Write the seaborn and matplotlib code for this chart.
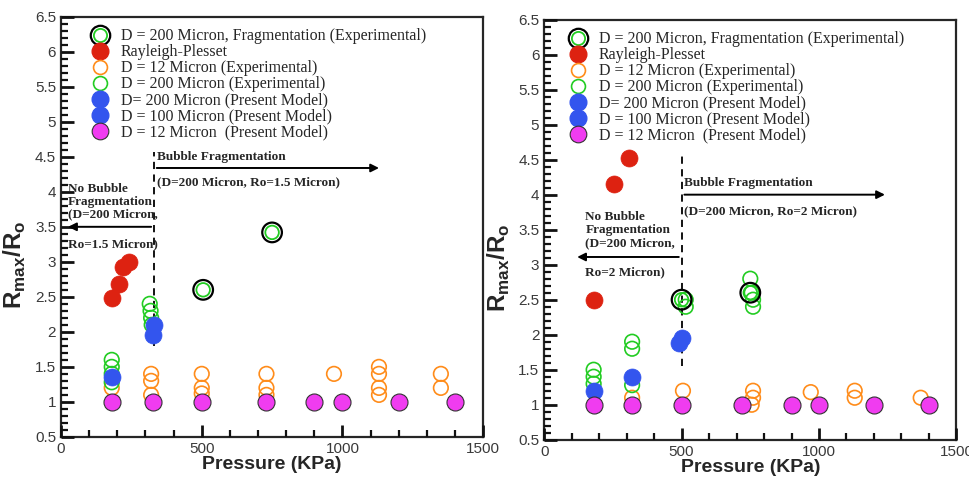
import pandas as pd
import matplotlib.pyplot as plt
import seaborn as sns
from matplotlib.lines import Line2D
from matplotlib.legend_handler import HandlerTuple
from matplotlib.ticker import MultipleLocator

# ---- data (pressure in KPa, Rmax/Ro) ----
# left panel, Ro = 1.5 micron
frag_p_a = [505, 750]
frag_r_a = [2.6, 3.42]
rp_p_a = [180, 205, 220, 240]
rp_r_a = [2.48, 2.68, 2.93, 3.0]
d12exp_p_a = [180, 320, 320, 320, 500, 500, 500, 730, 730, 730, 970, 1130, 1130, 1130, 1130, 1350, 1350]
d12exp_r_a = [1.2, 1.4, 1.3, 1.1, 1.4, 1.2, 1.12, 1.4, 1.2, 1.1, 1.4, 1.5, 1.4, 1.2, 1.1, 1.4, 1.2]
d200exp_p_a = [180, 180, 180, 180, 315, 318, 320, 322]
d200exp_r_a = [1.6, 1.5, 1.4, 1.28, 2.4, 2.3, 2.2, 2.1]
d100mod_p_a = [180, 330, 325]
d100mod_r_a = [1.35, 2.1, 1.95]
d12mod_p_a = [180, 325, 500, 730, 900, 1000, 1200, 1400]
d12mod_r_a = [1.0, 1.0, 1.0, 1.0, 1.0, 1.0, 1.0, 1.0]

# right panel, Ro = 2 micron
frag_p_b = [500, 750]
frag_r_b = [2.5, 2.6]
rp_p_b = [180, 255, 310]
rp_r_b = [2.5, 4.15, 4.52]
d12exp_p_b = [320, 505, 760, 760, 755, 970, 1130, 1130, 1370]
d12exp_r_b = [1.1, 1.2, 1.2, 1.1, 1.0, 1.18, 1.2, 1.1, 1.1]
d200exp_p_b = [180, 180, 180, 320, 320, 320, 515, 515, 750, 755, 760, 760]
d200exp_r_b = [1.5, 1.4, 1.3, 1.9, 1.8, 1.28, 2.5, 2.4, 2.8, 2.6, 2.5, 2.4]
d100mod_p_b = [180, 320, 490, 500]
d100mod_r_b = [1.2, 1.4, 1.88, 1.95]
d12mod_p_b = [180, 320, 500, 720, 900, 1000, 1200, 1400]
d12mod_r_b = [1.0, 1.0, 1.0, 1.0, 1.0, 1.0, 1.0, 1.0]

y_ticks = [0.5, 1, 1.5, 2, 2.5, 3, 3.5, 4, 4.5, 5, 5.5, 6, 6.5]
y_ticklabels = ['0.5', '1', '1.5', '2', '2.5', '3', '3.5', '4', '4.5', '5', '5.5', '6', '6.5']

labels = ['D = 200 Micron, Fragmentation (Experimental)',
          'Rayleigh-Plesset',
          'D = 12 Micron (Experimental)',
          'D = 200 Micron (Experimental)',
          'D= 200 Micron (Present Model)',
          'D = 100 Micron (Present Model)',
          'D = 12 Micron  (Present Model)']

RED = '#dd2211'
ORANGE = '#ff8c1a'
GREEN = '#22cc22'
BLUE = '#3355ee'
MAGENTA = '#f03cf0'


def make_df(frag, rp, d12exp, d200exp, d100mod, d12mod):
    rows = []
    for name, (p, r) in [('frag', frag), ('rp', rp), ('d12exp', d12exp),
                         ('d200exp', d200exp), ('d100mod', d100mod), ('d12mod', d12mod)]:
        rows += [{'series': name, 'P': pi, 'R': ri} for pi, ri in zip(p, r)]
    return pd.DataFrame(rows)


df_a = make_df((frag_p_a, frag_r_a), (rp_p_a, rp_r_a), (d12exp_p_a, d12exp_r_a),
               (d200exp_p_a, d200exp_r_a), (d100mod_p_a, d100mod_r_a), (d12mod_p_a, d12mod_r_a))
df_b = make_df((frag_p_b, frag_r_b), (rp_p_b, rp_r_b), (d12exp_p_b, d12exp_r_b),
               (d200exp_p_b, d200exp_r_b), (d100mod_p_b, d100mod_r_b), (d12mod_p_b, d12mod_r_b))

sns.set_style('ticks', {'xtick.direction': 'in', 'ytick.direction': 'in'})
plt.rcParams.update({
    'font.family': ['Liberation Sans', 'DejaVu Sans'],
    'mathtext.fontset': 'custom',
    'mathtext.bf': 'Liberation Sans:bold',
    'mathtext.rm': 'Liberation Sans',
    'axes.axisbelow': False,
})

fig = plt.figure(figsize=(9.7, 4.78), dpi=100)
ax_a = fig.add_axes([0.063, 0.086, 0.435, 0.879])
ax_b = fig.add_axes([0.561, 0.080, 0.425, 0.879])

serif = {'family': 'Liberation Serif'}


def draw_points(ax, df):
    def sub(name):
        return df[df['series'] == name]
    sns.scatterplot(data=sub('d12exp'), x='P', y='R', ax=ax, s=110, marker='o',
                    facecolors='none', edgecolor=ORANGE, linewidth=1.2, zorder=3)
    sns.scatterplot(data=sub('d200exp'), x='P', y='R', ax=ax, s=110, marker='o',
                    facecolors='none', edgecolor=GREEN, linewidth=1.2, zorder=3)
    sns.scatterplot(data=sub('frag'), x='P', y='R', ax=ax, s=200, marker='o',
                    facecolors='none', edgecolor='black', linewidth=1.6, zorder=4)
    sns.scatterplot(data=sub('frag'), x='P', y='R', ax=ax, s=95, marker='o',
                    facecolors='none', edgecolor=GREEN, linewidth=1.3, zorder=5)
    sns.scatterplot(data=sub('rp'), x='P', y='R', ax=ax, s=150, marker='o',
                    color=RED, edgecolor=RED, linewidth=0.5, zorder=4)
    sns.scatterplot(data=sub('d100mod'), x='P', y='R', ax=ax, s=150, marker='o',
                    color=BLUE, edgecolor=BLUE, linewidth=0.5, zorder=4)
    sns.scatterplot(data=sub('d12mod'), x='P', y='R', ax=ax, s=150, marker='o',
                    color=MAGENTA, edgecolor='#333333', linewidth=0.8, zorder=4)


def style_axes(ax, leg_x):
    ax.set_xlim(0, 1500)
    ax.set_ylim(0.5, 6.5)
    ax.set_yticks(y_ticks)
    ax.set_yticklabels(y_ticklabels)
    ax.xaxis.set_major_locator(MultipleLocator(500))
    ax.xaxis.set_minor_locator(MultipleLocator(100))
    ax.yaxis.set_minor_locator(MultipleLocator(0.1))
    for sp in ax.spines.values():
        sp.set_linewidth(1.6)
    ax.set_xlabel('Pressure (KPa)', fontsize=14, fontweight='bold', labelpad=0)
    ax.set_ylabel(r'$\mathbf{R}_{\mathbf{max}}\mathbf{/R}_{\mathbf{o}}$', fontsize=17.5)
    ax.yaxis.set_label_coords(-0.078, 0.41)

    h_frag = (Line2D([], [], ls='', marker='o', ms=14, mfc='none', mec='black', mew=1.6),
              Line2D([], [], ls='', marker='o', ms=9.5, mfc='none', mec=GREEN, mew=1.3))
    handles = [h_frag,
               Line2D([], [], ls='', marker='o', ms=12, color=RED),
               Line2D([], [], ls='', marker='o', ms=10, mfc='none', mec=ORANGE, mew=1.2),
               Line2D([], [], ls='', marker='o', ms=10, mfc='none', mec=GREEN, mew=1.2),
               Line2D([], [], ls='', marker='o', ms=12, color=BLUE),
               Line2D([], [], ls='', marker='o', ms=12, color=BLUE),
               Line2D([], [], ls='', marker='o', ms=12, mfc=MAGENTA, mec='#333333', mew=0.8)]
    ax.legend(handles, labels, loc='upper left', bbox_to_anchor=(leg_x, 0.995),
              frameon=False, prop={**serif, 'size': 11.5}, labelspacing=0.0,
              handletextpad=0.55, handlelength=1.5, borderaxespad=0.2,
              handler_map={tuple: HandlerTuple(ndivide=1, pad=0)})


draw_points(ax_a, df_a)
draw_points(ax_b, df_b)
style_axes(ax_a, 0.041)
style_axes(ax_b, 0.03)

ann = {**serif, 'size': 9.5, 'fontweight': 'bold'}
arrow = dict(arrowstyle='-|>', color='black', lw=1.4, mutation_scale=12)
dash = (0, (4, 3))

# left panel annotations
ax_a.plot([330, 330], [1.8, 4.57], ls=dash, color='black', lw=1.3)
ax_a.annotate('', xy=(1140, 4.34), xytext=(330, 4.34), arrowprops=arrow)
ax_a.text(340, 4.5, 'Bubble Fragmentation', va='center', ha='left', **ann)
ax_a.text(340, 4.13, '(D=200 Micron, Ro=1.5 Micron)', va='center', ha='left', **ann)
ax_a.annotate('', xy=(15, 3.5), xytext=(330, 3.5), arrowprops=arrow)
ax_a.text(25, 3.86, 'No Bubble\nFragmentation\n(D=200 Micron,', va='center', ha='left',
          linespacing=1.1, **ann)
ax_a.text(25, 3.25, 'Ro=1.5 Micron)', va='center', ha='left', **ann)

# right panel annotations
ax_b.plot([500, 500], [1.55, 4.55], ls=dash, color='black', lw=1.3)
ax_b.annotate('', xy=(1250, 4.0), xytext=(500, 4.0), arrowprops=arrow)
ax_b.text(510, 4.17, 'Bubble Fragmentation', va='center', ha='left', **ann)
ax_b.text(510, 3.76, '(D=200 Micron, Ro=2 Micron)', va='center', ha='left', **ann)
ax_b.annotate('', xy=(110, 3.11), xytext=(500, 3.11), arrowprops=arrow)
ax_b.text(150, 3.49, 'No Bubble\nFragmentation\n(D=200 Micron,', va='center', ha='left',
          linespacing=1.1, **ann)
ax_b.text(150, 2.89, 'Ro=2 Micron)', va='center', ha='left', **ann)

# inward ticks, set last so nothing above resets them
for ax in (ax_a, ax_b):
    ax.tick_params(which='major', direction='in', length=9, width=2.0, color='#111111',
                   labelsize=11, labelcolor='#3a3a3a', bottom=True, left=True,
                   top=False, right=False)
    ax.tick_params(which='minor', direction='in', length=5, width=1.6, color='#111111',
                   bottom=True, left=True, top=False, right=False)

fig.canvas.draw()
for ax in (ax_a, ax_b):
    for axis in (ax.xaxis, ax.yaxis):
        for t in axis.get_major_ticks():
            t.tick1line.set_visible(True)
            t.tick1line.set_markersize(9)
            t.tick1line.set_markeredgewidth(2.0)
            t.tick1line.set_color('#111111')
            t.tick1line.set_zorder(6)
        for t in axis.get_minor_ticks():
            t.tick1line.set_visible(True)
            t.tick1line.set_markersize(5)
            t.tick1line.set_markeredgewidth(1.6)
            t.tick1line.set_color('#111111')
            t.tick1line.set_zorder(6)

fig.savefig('out.png', dpi=100)
